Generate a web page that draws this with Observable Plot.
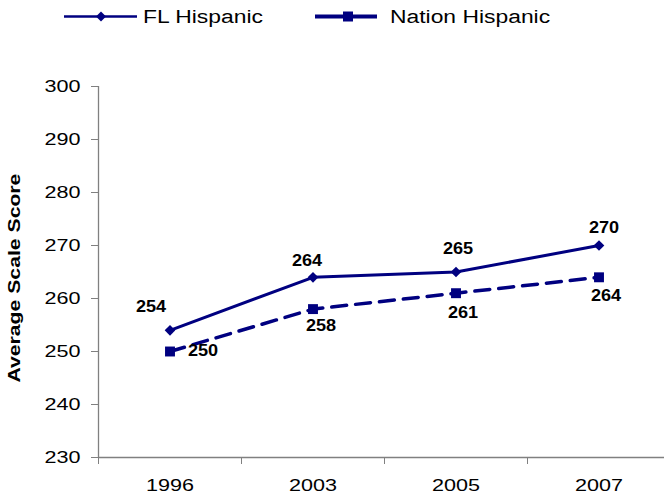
<!DOCTYPE html>
<html><head><meta charset="utf-8">
<script src="https://cdn.jsdelivr.net/npm/d3@7"></script>
<script src="https://cdn.jsdelivr.net/npm/@observablehq/plot@0.6"></script>
<style>
body{margin:0;background:#fff;font-family:"Liberation Sans",Arial,sans-serif;}
#legend{width:664px;height:40px;}
#legend svg, #chart svg{display:block;}
</style></head><body>
<div id="legend"></div>
<div id="chart"></div>
<script>
const years = ["1996","2003","2005","2007"];
const flHispanic = [254,264,265,270];
const nationHispanic = [250,258,261,264];
const seriesNames = ["FL Hispanic","Nation Hispanic"];
const yTicks = [230,240,250,260,270,280,290,300];
const yLabel = "Average Scale Score";

const navy = "#000080";
const axisGray = "#808080";
const font = "Liberation Sans, Arial, sans-serif";

const fl = years.map((yr,i)=>({series: seriesNames[0], i, year: yr, value: flHispanic[i]}));
const na = years.map((yr,i)=>({series: seriesNames[1], i, year: yr, value: nationHispanic[i]}));

// label placement (style, not data)
const flOffsets = [[-19,-23],[-6,-16],[2,-23],[5,-18]];
const naOffsets = [[33,-1],[8,17],[7,20],[7,19]];

const labelMarks = [];
fl.forEach((d,k)=> labelMarks.push(Plot.text([d], {x:"i", y:"value", text: d=>String(d.value), dx: flOffsets[k][0], dy: flOffsets[k][1], fontWeight:"bold", fontSize: 16, fill:"#000"})));
na.forEach((d,k)=> labelMarks.push(Plot.text([d], {x:"i", y:"value", text: d=>String(d.value), dx: naOffsets[k][0], dy: naOffsets[k][1], fontWeight:"bold", fontSize: 16, fill:"#000"})));

const chart = Plot.plot({
  width: 664, height: 457,
  marginTop: 46, marginBottom: 40, marginLeft: 98, marginRight: -6,
  style: {fontFamily: font, fontSize: "17px", color:"#000", background:"#fff", overflow:"visible"},
  x: {type:"linear", domain:[-0.5, years.length - 0.5]},
  y: {domain:[230,300]},
  marks: [
    Plot.axisY({ticks: yTicks, tickSize: 7, tickPadding: 11, stroke: axisGray, fill:"#000", label:null, fontSize:17}),
    Plot.axisX({ticks: d3.range(years.length), tickFormat: i=>years[i], tickSize:0, tickPadding: 21, fill:"#000", label:null, fontSize:17}),
    Plot.axisX({ticks: d3.range(years.length).map(i=>i-0.5), tickFormat: ()=>"", tickSize:7, stroke: axisGray, label:null}),
    Plot.ruleX([-0.5], {stroke: axisGray, strokeWidth: 1.3}),
    Plot.ruleY([230], {stroke: axisGray, strokeWidth: 1.3}),
    Plot.text([yLabel], {frameAnchor:"bottom-left", dx:-79, dy:-75, rotate:-90, textAnchor:"start", fontWeight:"bold", fontSize:16.7, fill:"#000"}),
    Plot.line(fl, {x:"i", y:"value", stroke:navy, strokeWidth:3}),
    Plot.line(na, {x:"i", y:"value", stroke:navy, strokeWidth:3.5, strokeDasharray:"15,9"}),
    Plot.dot(fl, {x:"i", y:"value", symbol:"diamond2", r:4.8, fill:navy}),
    Plot.dot(na, {x:"i", y:"value", symbol:"square", r:5.6, fill:navy}),
    ...labelMarks
  ]
});
document.getElementById("chart").appendChild(chart);

// Legend
const ns = "http://www.w3.org/2000/svg";
const lg = document.createElementNS(ns, "svg");
lg.setAttribute("width", 664); lg.setAttribute("height", 40);
lg.innerHTML = `
  <line x1="64" x2="137" y1="16.5" y2="16.5" stroke="${navy}" stroke-width="2.5"/>
  <polygon points="101,11.5 106,16.5 101,21.5 96,16.5" fill="${navy}"/>
  <text x="143" y="23" font-family="${font}" font-size="18" fill="#000">${seriesNames[0]}</text>
  <line x1="315" x2="377" y1="16.5" y2="16.5" stroke="${navy}" stroke-width="4"/>
  <rect x="343" y="11.5" width="10" height="10" fill="${navy}"/>
  <text x="390" y="23" font-family="${font}" font-size="18" fill="#000">${seriesNames[1]}</text>`;
document.getElementById("legend").appendChild(lg);

function stretch(el, f){
  const L = el.getComputedTextLength();
  if (L > 0){ el.setAttribute("textLength", (L*f).toFixed(1)); el.setAttribute("lengthAdjust","spacingAndGlyphs"); }
}
lg.querySelectorAll("text").forEach(t=>stretch(t,1.27));
chart.querySelectorAll("text").forEach(t=>{
  const g = t.closest("g[aria-label]");
  const a = g ? g.getAttribute("aria-label") : "";
  if (a.includes("tick label") || t.textContent === yLabel) stretch(t, 1.27);
  else stretch(t, 1.13);
});
</script>
</body></html>
